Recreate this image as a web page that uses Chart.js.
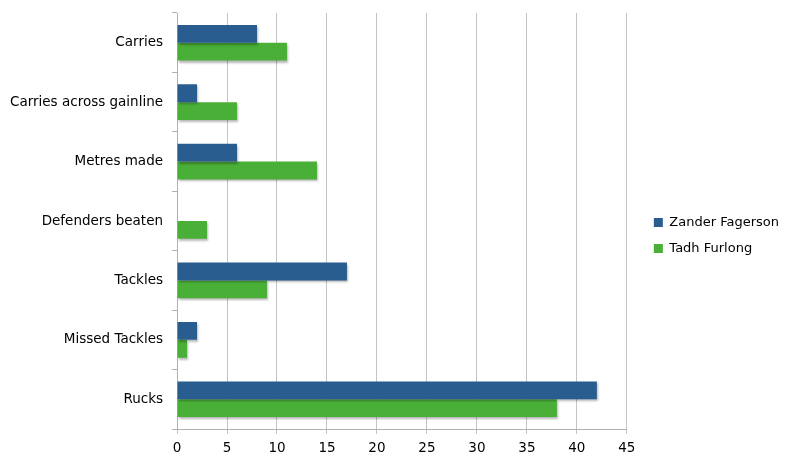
<!DOCTYPE html>
<html><head><meta charset="utf-8">
<script src="https://cdn.jsdelivr.net/npm/chart.js@4"></script>
<style>html,body{margin:0;padding:0;background:#fff}#wrap{width:793px;height:462px}</style>
</head><body><div id="wrap"><canvas id="c" width="793" height="462"></canvas></div>
<script>
const categories = ["Carries","Carries across gainline","Metres made","Defenders beaten","Tackles","Missed Tackles","Rucks"];
const zanderValues = [8,2,6,0,17,2,42];
const tadhValues = [11,6,14,3,9,1,38];
const xTicks = [0,5,10,15,20,25,30,35,40,45];

const shadow = {
  id:'shadow',
  beforeDatasetsDraw(chart){const c=chart.ctx;c.save();c.shadowColor='rgba(0,0,0,0.28)';c.shadowBlur=2;c.shadowOffsetX=1;c.shadowOffsetY=2;},
  afterDatasetsDraw(chart){chart.ctx.restore();}
};
const LEGEND_GAP = 16;
const legendGap = {
  id:'legendGap',
  beforeLayout(chart){
    const lg = chart.legend;
    if (lg && !lg._gapPatched){
      lg._gapPatched = true;
      const f = lg.fit.bind(lg);
      lg.fit = function(){ f(); this.width += LEGEND_GAP; };
      const d = lg.draw.bind(lg);
      lg.draw = function(){ const c=chart.ctx; c.save(); c.translate(LEGEND_GAP-2,-2); d(); c.restore(); };
    }
  }
};
const FONT = "'DejaVu Sans', sans-serif";
new Chart(document.getElementById('c'),{
  type:'bar',
  data:{labels:categories,datasets:[
    {label:'Zander Fagerson',data:zanderValues,backgroundColor:'#2A5D8F',borderWidth:0,categoryPercentage:0.6,barPercentage:1.0},
    {label:'Tadh Furlong',data:tadhValues,backgroundColor:'#4AAF37',borderWidth:0,categoryPercentage:0.6,barPercentage:1.0}
  ]},
  options:{
    indexAxis:'y',responsive:false,animation:false,
    layout:{padding:{left:1,top:13,right:2,bottom:0}},
    plugins:{
      legend:{position:'right',align:'center',labels:{boxWidth:9,boxHeight:9,padding:13,color:'#000',font:{family:FONT,size:13}}},
      tooltip:{enabled:false}
    },
    scales:{
      x:{min:0,max:45,afterBuildTicks(s){s.ticks=xTicks.map(v=>({value:v}));},
        afterFit(s){s.height=33;},
        grid:{color:'#c4c4c4',lineWidth:1,tickLength:5,drawTicks:true},
        border:{color:'#b0b0b0',width:1},
        ticks:{color:'#000',font:{family:FONT,size:13.5},padding:6}},
      y:{afterFit(s){s.paddingTop=0;s.paddingBottom=0;},
        grid:{offset:true,drawOnChartArea:false,color:'#b0b0b0',tickLength:5},
        border:{color:'#b0b0b0',width:1},
        ticks:{color:'#000',font:{family:FONT,size:13.5},padding:9}}
    }
  },
  plugins:[shadow, legendGap]
});
</script></body></html>
